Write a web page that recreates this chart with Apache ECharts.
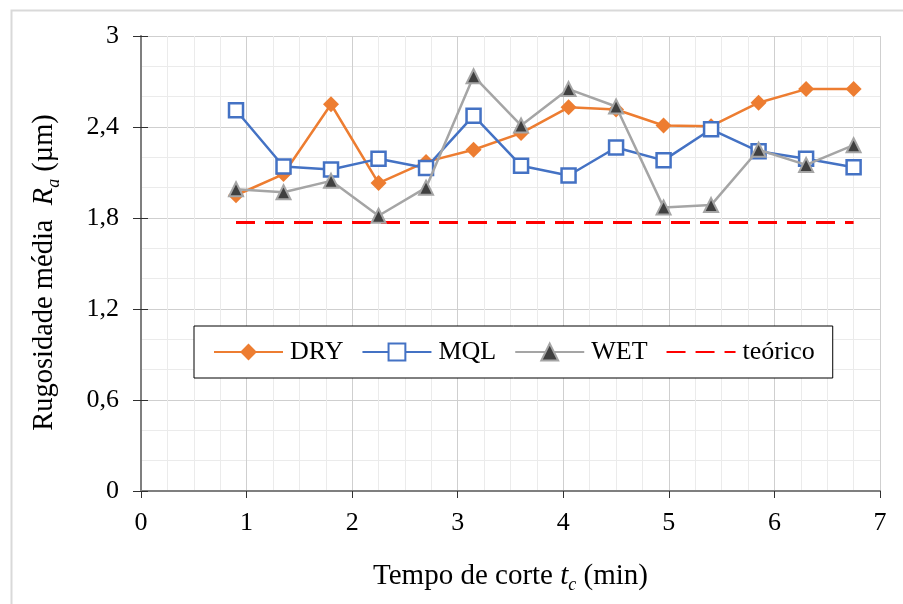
<!DOCTYPE html>
<html>
<head>
<meta charset="utf-8">
<script src="https://cdn.jsdelivr.net/npm/echarts@6/dist/echarts.min.js"></script>
<style>
html,body{margin:0;padding:0;background:#fff;}
#c{width:903px;height:604px;}
</style>
</head>
<body>
<div id="c"></div>
<script>
const timeMin = [0.9, 1.35, 1.8, 2.25, 2.7, 3.15, 3.6, 4.05, 4.5, 4.95, 5.4, 5.85, 6.3, 6.75];
const dry = [1.95, 2.09, 2.55, 2.03, 2.17, 2.25, 2.36, 2.53, 2.515, 2.41, 2.405, 2.56, 2.65, 2.65];
const mql = [2.51, 2.14, 2.12, 2.19, 2.13, 2.475, 2.145, 2.08, 2.265, 2.18, 2.385, 2.24, 2.19, 2.135];
const wet = [1.99, 1.97, 2.045, 1.815, 2.0, 2.735, 2.41, 2.65, 2.535, 1.87, 1.885, 2.25, 2.15, 2.28];
const teorico = [1.77, 1.77, 1.77, 1.77, 1.77, 1.77, 1.77, 1.77, 1.77, 1.77, 1.77, 1.77, 1.77, 1.77];
const seriesNames = ['DRY', 'MQL', 'WET', 'teórico'];
const xTickLabels = ['0', '1', '2', '3', '4', '5', '6', '7'];
const yTickLabels = ['0', '0,6', '1,2', '1,8', '2,4', '3'];

const pairs = arr => timeMin.map((t, i) => [t, arr[i]]);
const FONT = '"Liberation Serif", "Times New Roman", serif';
const chart = echarts.init(document.getElementById('c'), null, {renderer: 'canvas'});

function titleRich(size) {
  return {
    n: {fontSize: size, fontFamily: FONT, color: '#000', lineHeight: 36, verticalAlign: 'middle'},
    i: {fontSize: size, fontFamily: FONT, color: '#000', fontStyle: 'italic', lineHeight: 36, verticalAlign: 'middle'},
    s: {fontSize: 18, fontFamily: FONT, color: '#000', fontStyle: 'italic', lineHeight: 22, verticalAlign: 'bottom'}
  };
}

const baseX = {type: 'value', min: 0, max: 7, interval: 1};
const baseY = {type: 'value', min: 0, max: 3, interval: 0.6};

chart.setOption({
  backgroundColor: '#fff',
  animation: false,
  graphic: [{
    type: 'rect', left: 9, top: 8, shape: {width: 1000, height: 1000},
    style: {fill: 'none', stroke: '#d9d9d9', lineWidth: 2}, silent: true, z: -10
  }],
  grid: {left: 141, right: 23, top: 36, bottom: 113, containLabel: false},
  legend: {
    data: [
      {name: 'DRY'}, {name: 'MQL'}, {name: 'WET'},
      {name: 'teórico', itemStyle: {opacity: 0}}
    ],
    left: 194, top: 326,
    orient: 'horizontal',
    padding: [13, 18, 13, 19],
    itemGap: 18,
    itemWidth: 69,
    itemHeight: 21,
    borderColor: '#000', borderWidth: 1,
    backgroundColor: '#fff',
    textStyle: {fontFamily: FONT, fontSize: 26, color: '#000', padding: [0, 0, 0, 2]}
  },
  xAxis: [
    Object.assign({}, baseX, {
      name: '{n|Tempo de corte }{i|t}{s|c}{n| (min)}',
      nameLocation: 'middle', nameGap: 67,
      nameTextStyle: {rich: titleRich(29)},
      axisLine: {show: true, onZero: false, lineStyle: {color: '#7f7f7f', width: 2}},
      axisTick: {show: true, length: 7, lineStyle: {color: '#303030', width: 1}},
      axisLabel: {margin: 19, fontFamily: FONT, fontSize: 26, color: '#000',
        formatter: (v) => xTickLabels[Math.round(v)]},
      splitLine: {show: true, lineStyle: {color: '#cfcfcf', width: 1}},
      minorTick: {show: false, splitNumber: 4},
      minorSplitLine: {show: true, lineStyle: {color: '#ebebeb', width: 1}}
    }),
    Object.assign({}, baseX, {
      axisLine: {show: false}, axisLabel: {show: false}, splitLine: {show: false},
      axisTick: {show: true, inside: true, length: 7, lineStyle: {color: '#303030', width: 1}}
    })
  ],
  yAxis: [
    Object.assign({}, baseY, {
      name: '{n|Rugosidade média  }{i|R}{s|a}{n| (µm)}',
      nameLocation: 'middle', nameGap: 78, nameRotate: 90,
      nameTextStyle: {rich: titleRich(28.5), padding: [0, 18, 0, 0]},
      axisLine: {show: true, onZero: false, lineStyle: {color: '#7f7f7f', width: 2}},
      axisTick: {show: true, length: 8, lineStyle: {color: '#303030', width: 1}},
      axisLabel: {margin: 22, fontFamily: FONT, fontSize: 26, color: '#000',
        formatter: (v) => yTickLabels[Math.round(v / 0.6)]},
      splitLine: {show: true, lineStyle: {color: '#cfcfcf', width: 1}},
      minorTick: {show: false, splitNumber: 3},
      minorSplitLine: {show: true, lineStyle: {color: '#ebebeb', width: 1}}
    }),
    Object.assign({}, baseY, {
      position: 'left',
      axisLine: {show: false}, axisLabel: {show: false}, splitLine: {show: false},
      axisTick: {show: true, inside: true, length: 7, lineStyle: {color: '#303030', width: 1}}
    })
  ],
  series: [
    {
      name: 'DRY', type: 'line', data: pairs(dry),
      symbol: 'diamond', symbolSize: 16,
      lineStyle: {color: '#ED7D31', width: 2.5},
      itemStyle: {color: '#ED7D31'},
      z: 2
    },
    {
      name: 'MQL', type: 'line', data: pairs(mql),
      symbol: 'rect', symbolSize: 14,
      lineStyle: {color: '#4472C4', width: 2.5},
      itemStyle: {color: '#ffffff', borderColor: '#4472C4', borderWidth: 2.5},
      z: 3
    },
    {
      name: 'WET', type: 'line', data: pairs(wet),
      symbol: 'triangle', symbolSize: 14,
      lineStyle: {color: '#A5A5A5', width: 2.5},
      itemStyle: {color: '#404040', borderColor: '#A5A5A5', borderWidth: 2},
      z: 4
    },
    {
      name: 'teórico', type: 'line', data: pairs(teorico),
      symbol: 'none',
      lineStyle: {color: '#FF0000', width: 3, type: [19, 10]},
      itemStyle: {color: '#FF0000'},
      z: 1
    }
  ]
});
</script>
</body>
</html>
